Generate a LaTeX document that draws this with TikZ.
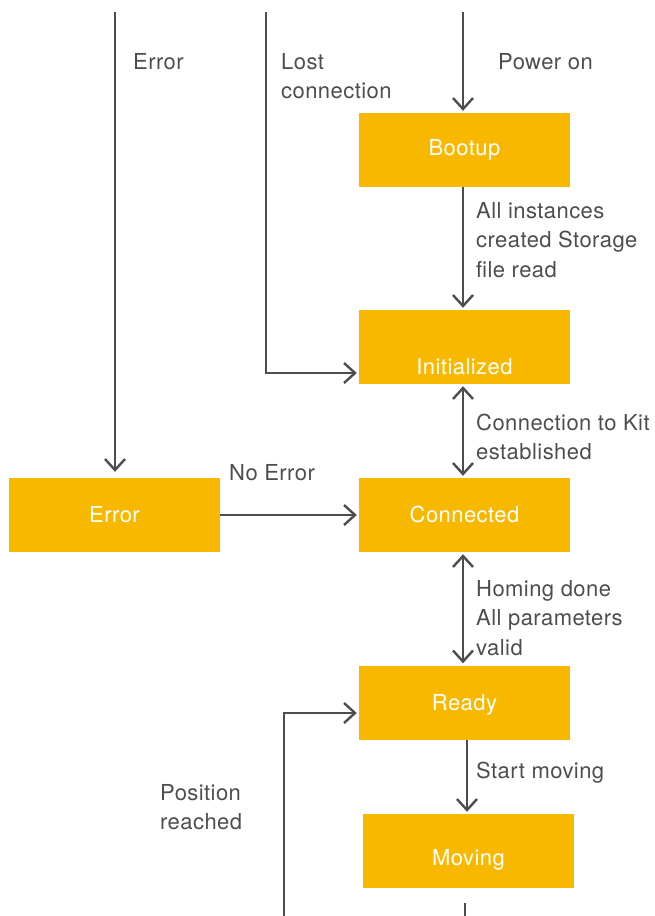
\documentclass[tikz,border=0pt]{standalone}
\usepackage{fontspec}
\setmainfont[LetterSpace=2]{TeX Gyre Heros}
\usetikzlibrary{arrows.meta}
\definecolor{boxc}{HTML}{F9B800}
\definecolor{linec}{HTML}{4D4D4D}
\newcommand\mlines[1]{\vtop{\halign{##\hfil\cr#1\crcr}}}
\begin{document}
\begin{tikzpicture}[x=1pt,y=-1pt,
  state/.style={fill=boxc, minimum width=211pt, minimum height=74pt, inner sep=0pt,
    text=white, font=\fontsize{22}{29.5}\selectfont, text depth=0pt, text height=#1},
  lbl/.style={anchor=base west, text=linec, inner sep=0pt, font=\fontsize{22}{29.5}\selectfont},
  arr/.style={draw=linec, line width=2.4pt, -{Straight Barb[length=11pt,width=20pt]}, shorten >=2pt},
  darr/.style={draw=linec, line width=2.4pt, {Straight Barb[length=11pt,width=20pt]}-{Straight Barb[length=11pt,width=20pt]}, shorten >=2pt, shorten <=2pt}]
\useasboundingbox (0,0) rectangle (655,916);
% states
\node[state=11pt] (boot) at (464.5,150) {Bootup};
\node[state=54pt] (init) at (464.5,347) {Initialized};
\node[state=14pt] (cnx) at (464.5,515) {Connected};
\node[state=14pt] (err) at (114.5,515) {Error};
\node[state=15pt] (ready) at (464.5,702.5) {Ready};
\node[state=28pt] (mov) at (468.5,851) {Moving};
% free ends
\coordinate (pwr) at (463,12);
\coordinate (lost) at (266,12);
\coordinate (errtop) at (115,12);
\coordinate (rm) at (467,740);
\coordinate (mb1) at (465,903);
\coordinate (mb2) at (465,916);
\coordinate (pos) at (284,916);
% connectors
\draw[arr] (pwr) -- (pwr |- boot.north);
\draw[arr] (lost) |- ([yshift=-26pt]init.west);
\draw[arr, shorten >=6pt] (errtop) -- (errtop |- err.north);
\draw[arr] (pwr |- boot.south) -- (pwr |- init.north);
\draw[darr] (pwr |- init.south) -- (pwr |- cnx.north);
\draw[arr] (err.east) -- (cnx.west);
\draw[darr] (pwr |- cnx.south) -- (pwr |- ready.north);
\draw[arr] (rm |- ready.south) -- (rm |- mov.north);
\draw[draw=linec, line width=2.4pt] (mb1) -- (mb2);
\draw[arr] (pos) |- ([yshift=-10.5pt]ready.west);
% labels
\node[lbl] (lerr) at (133,69) {Error};
\node[lbl] (llost) at (281,69) {\mlines{Lost\cr connection}};
\node[lbl] (lpwr) at (498,69) {Power on};
\node[lbl] (lall) at (476,218) {\mlines{All instances\cr created Storage\cr file read}};
\node[lbl] (lkit) at (476,430) {\mlines{Connection to Kit\cr established}};
\node[lbl] (lnoerr) at (229,480) {No Error};
\node[lbl] (lhome) at (476,596) {\mlines{Homing done\cr All parameters\cr valid}};
\node[lbl] (lstart) at (476,778) {Start moving};
\node[lbl] (lpos) at (160,800) {\mlines{Position\cr reached}};
\end{tikzpicture}
\end{document}
